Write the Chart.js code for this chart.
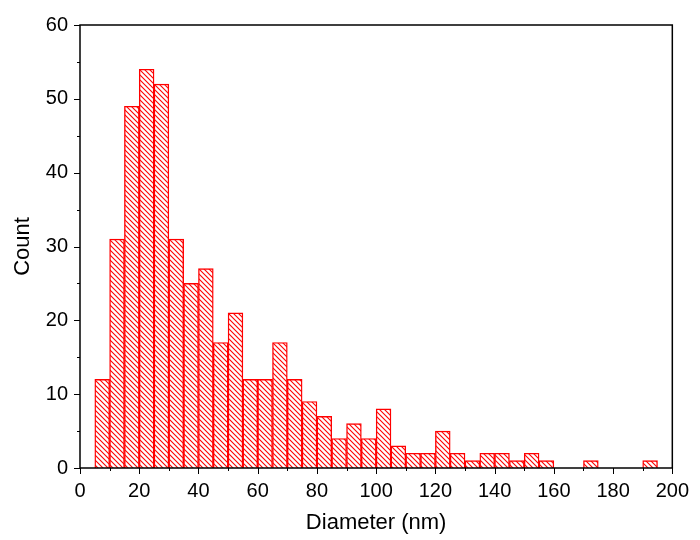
<!DOCTYPE html>
<html lang="en">
<head>
  <meta charset="UTF-8" />
  <title>Diameter histogram</title>
  <script src="https://cdn.jsdelivr.net/npm/chart.js"></script>
  <style>
    html, body { margin: 0; padding: 0; background: #fff; }
    #wrap { width: 700px; height: 540px; }
  </style>
</head>
<body>
  <div id="wrap"><canvas id="hist" width="700" height="540"></canvas></div>
  <script>
    // bin centers (nm), bin width 5
    const binCenters = [7.5, 12.5, 17.5, 22.5, 27.5, 32.5, 37.5, 42.5, 47.5, 52.5,
      57.5, 62.5, 67.5, 72.5, 77.5, 82.5, 87.5, 92.5, 97.5, 102.5,
      107.5, 112.5, 117.5, 122.5, 127.5, 132.5, 137.5, 142.5, 147.5, 152.5,
      157.5, 162.5, 167.5, 172.5, 177.5, 182.5, 187.5, 192.5];
    const counts = [12, 31, 49, 54, 52, 31, 25, 27, 17, 21,
      12, 12, 17, 12, 9, 7, 4, 6, 4, 8,
      3, 2, 2, 5, 2, 1, 2, 2, 1, 2,
      1, 0, 0, 1, 0, 0, 0, 1];
    const xTicks = [0, 20, 40, 60, 80, 100, 120, 140, 160, 180, 200];
    const yTicks = [0, 10, 20, 30, 40, 50, 60];

    function hatch() {
      const c = document.createElement('canvas');
      c.width = 5; c.height = 5;
      const g = c.getContext('2d');
      g.fillStyle = '#fff';
      g.fillRect(0, 0, 5, 5);
      g.strokeStyle = '#ff0000';
      g.lineWidth = 1.1;
      g.beginPath();
      g.moveTo(-1, -1); g.lineTo(6, 6);
      g.moveTo(-1, 4); g.lineTo(1, 6);
      g.moveTo(4, -1); g.lineTo(6, 1);
      g.stroke();
      return g.createPattern(c, 'repeat');
    }

    // frame + outward major/minor ticks
    const frameTicks = {
      id: 'frameTicks',
      afterDraw(chart) {
        const { ctx, chartArea: a, scales } = chart;
        ctx.save();
        ctx.strokeStyle = '#000';
        ctx.lineWidth = 1.5;
        ctx.strokeRect(a.left, a.top, a.right - a.left, a.bottom - a.top);
        ctx.lineWidth = 1;
        ctx.beginPath();
        for (let v = 0; v <= 200; v += 10) {
          const x = Math.round(scales.x.getPixelForValue(v)) + 0.5;
          ctx.moveTo(x, a.bottom);
          ctx.lineTo(x, a.bottom + (v % 20 === 0 ? 6 : 3));
        }
        for (let v = 0; v <= 60; v += 5) {
          const y = Math.round(scales.y.getPixelForValue(v)) + 0.5;
          ctx.moveTo(a.left, y);
          ctx.lineTo(a.left - (v % 10 === 0 ? 6 : 3), y);
        }
        ctx.stroke();
        ctx.restore();
      }
    };

    const font = { family: 'Liberation Sans, Arial, sans-serif', size: 20 };
    const titleFont = { family: 'Liberation Sans, Arial, sans-serif', size: 22 };

    new Chart(document.getElementById('hist'), {
      type: 'bar',
      data: {
        datasets: [{
          data: binCenters.map((x, i) => ({ x: x, y: counts[i] || null })),
          backgroundColor: hatch(),
          borderColor: '#ff0000',
          borderWidth: 1.4,
          barPercentage: 1,
          categoryPercentage: 1
        }]
      },
      options: {
        responsive: false,
        animation: false,
        layout: { padding: { top: 25, right: 27, left: 0, bottom: 0 } },
        plugins: { legend: { display: false }, tooltip: { enabled: false } },
        scales: {
          x: {
            type: 'linear', min: 0, max: 200, offset: false,
            afterBuildTicks: s => { s.ticks = xTicks.map(v => ({ value: v })); },
            afterFit: s => { s.height = 72; },
            grid: { display: false, drawTicks: false },
            border: { display: false },
            ticks: { color: '#000', font: font, padding: 11, maxRotation: 0 },
            title: { display: true, text: 'Diameter (nm)', color: '#000',
              font: titleFont, padding: { top: 0, bottom: 4 } }
          },
          y: {
            min: 0, max: 60,
            afterBuildTicks: s => { s.ticks = yTicks.map(v => ({ value: v })); },
            afterFit: s => { s.width = 80; },
            grid: { display: false, drawTicks: false },
            border: { display: false },
            ticks: { color: '#000', font: font, padding: 12 },
            title: { display: true, text: 'Count', color: '#000',
              font: titleFont, padding: { top: 10, bottom: 0 } }
          }
        }
      },
      plugins: [frameTicks]
    });
  </script>
</body>
</html>
